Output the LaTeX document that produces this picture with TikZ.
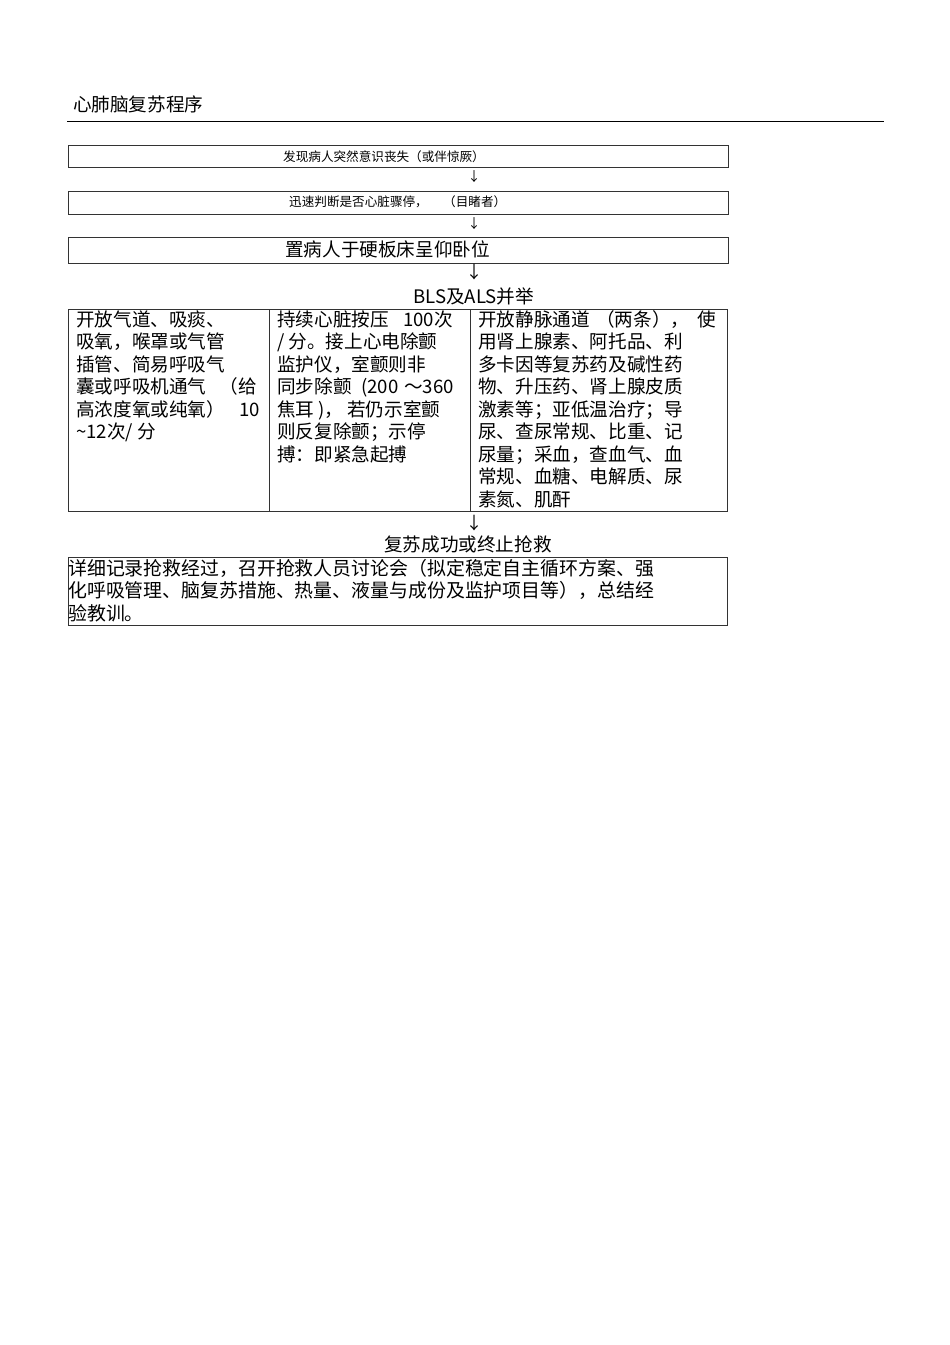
\documentclass[tikz,border=0pt]{standalone}
\usepackage{fontspec}
\newfontfamily\cjk{Noto Sans CJK SC}
\begin{document}
\begin{tikzpicture}[x=1pt,y=-1pt,
  t/.style={anchor=base west,inner sep=0pt,font=\cjk\fontsize{18.6}{22}\selectfont},
  tb/.style={anchor=base west,inner sep=0pt,font=\cjk\fontsize{18.9}{22}\selectfont},
  te/.style={anchor=base east,inner sep=0pt,font=\cjk\fontsize{18.6}{22}\selectfont},
  ts/.style={anchor=base west,inner sep=0pt,font=\cjk\fontsize{12.6}{15}\selectfont},
  arrs/.style={anchor=center,inner sep=0pt,font=\cjk\fontsize{13}{15}\selectfont},
  arrl/.style={anchor=center,inner sep=0pt,font=\cjk\fontsize{17}{19}\selectfont},
  frame/.style={draw=black!80,line width=0.8pt}]
\useasboundingbox[fill=white] (0,0) rectangle (950,1345);

% title
\node[t] (title) at (73,111) {心肺脑复苏程序};
\draw[line width=0.9pt] (67,121) -- (884,121);

% box 1
\draw[frame] (68,145) rectangle (728,167);
\node[ts] (t1) at (283,161) {发现病人突然意识丧失（或伴惊厥）};
\node[arrs] (a1) at (474,177) {↓};

% box 2
\draw[frame] (68,191) rectangle (728,214);
\node[ts] (t2a) at (289,206) {迅速判断是否心脏骤停，};
\node[ts] (t2b) at (443,206) {（目睹者）};
\node[arrs] (a2) at (474,224) {↓};

% box 3
\draw[frame] (68,237) rectangle (728,263);
\node[t] (t3) at (285,256) {置病人于硬板床呈仰卧位};
\node[arrl] (a3) at (474,272) {↓};

\node[t] (bls) at (413,303) {BLS及ALS并举};

% table
\draw[frame] (68,309) rectangle (727,511);
\draw[frame] (269,309) -- (269,511);
\draw[frame] (470,309) -- (470,511);

% left column
\node[t] (l1) at (76,326) {开放气道、吸痰、};
\node[t] (l2) at (76,348.5) {吸氧，喉罩或气管};
\node[t] (l3) at (76,371) {插管、简易呼吸气};
\node[t] (l4a) at (76,393.5) {囊或呼吸机通气};
\node[te] (l4b) at (257,393.5) {（给};
\node[t] (l5a) at (76,416) {高浓度氧或纯氧）};
\node[te] (l5b) at (260,416) {10};
\node[t] (l6) at (76,438.5) {\textasciitilde12次/ 分};

% middle column
\node[t] (m1a) at (277,326) {持续心脏按压};
\node[te] (m1b) at (453,326) {100次};
\node[t] (m2) at (277,348.5) {/ 分。接上心电除颤};
\node[t] (m3) at (277,371) {监护仪，室颤则非};
\node[t] (m4a) at (277,393.5) {同步除颤};
\node[t] (m4b) at (361,393.5) {(200};
\node[te] (m4c) at (454,393.5) {～360};
\node[t] (m5a) at (277,416) {焦耳 )，};
\node[t] (m5b) at (347,416) {若仍示室颤};
\node[t] (m6) at (277,438.5) {则反复除颤；示停};
\node[t] (m7) at (277,461) {搏：即紧急起搏};

% right column
\node[t] (r1a) at (478,326) {开放静脉通道};
\node[t] (r1b) at (596,326) {（两条）};
\node[t] (r1c) at (670,326) {，};
\node[te] (r1d) at (716,326) {使};
\node[t] (r2) at (478,348.5) {用肾上腺素、阿托品、利};
\node[t] (r3) at (478,371) {多卡因等复苏药及碱性药};
\node[t] (r4) at (478,393.5) {物、升压药、肾上腺皮质};
\node[t] (r5) at (478,416) {激素等；亚低温治疗；导};
\node[t] (r6) at (478,438.5) {尿、查尿常规、比重、记};
\node[t] (r7) at (478,461) {尿量；采血，查血气、血};
\node[t] (r8) at (478,483.5) {常规、血糖、电解质、尿};
\node[t] (r9) at (478,506) {素氮、肌酐};

\node[arrl] (a4) at (474,523) {↓};
\node[t] (succ) at (384,551) {复苏成功或终止抢救};

% bottom box
\draw[frame] (68,557) rectangle (727,625);
\node[tb] (b1) at (68,575) {详细记录抢救经过，召开抢救人员讨论会（拟定稳定自主循环方案、强};
\node[tb] (b2) at (68,597.5) {化呼吸管理、脑复苏措施、热量、液量与成份及监护项目等），总结经};
\node[tb] (b3) at (68,620) {验教训。};
\end{tikzpicture}
\end{document}
